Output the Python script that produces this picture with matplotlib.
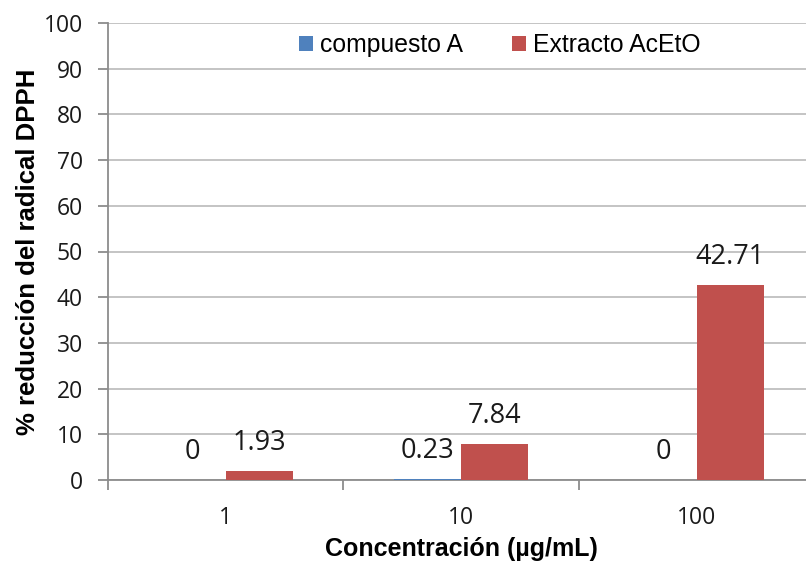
import numpy as np
import matplotlib.pyplot as plt
from matplotlib.ticker import MultipleLocator, FixedLocator

# DPPH radical scavenging data
concentraciones = ['1', '10', '100']
compuesto_a = [0, 0.23, 0]
extracto_acetO = [1.93, 7.84, 42.71]
series_names = ['compuesto A', 'Extracto AcEtO']

blue = '#4F81BD'
red = '#C0504D'
grid_gray = '#BFBFBF'
axis_gray = '#8C8C8C'
num_font = ['Open Sans', 'DejaVu Sans']

fig = plt.figure(figsize=(8.06, 5.65), dpi=100)
ax = fig.add_axes([108 / 806, 85 / 565, 706.5 / 806, 457 / 565])

x = np.arange(len(concentraciones))
w = 0.285
bars_a = ax.bar(x - w / 2, compuesto_a, w, color=blue, label=series_names[0], zorder=3)
bars_b = ax.bar(x + w / 2, extracto_acetO, w, color=red, label=series_names[1], zorder=3)

# value labels above each bar
for bars, vals in ((bars_a, compuesto_a), (bars_b, extracto_acetO)):
    for b, v in zip(bars, vals):
        ax.annotate(f'{v:g}', (b.get_x() + b.get_width() / 2, v),
                    xytext=(0, 20), textcoords='offset points',
                    ha='center', va='center', fontsize=19.5,
                    family=num_font, color='#1a1a1a')

ax.set_ylim(0, 100)
ax.set_xlim(-0.5, len(concentraciones) - 0.5)
ax.yaxis.set_major_locator(MultipleLocator(10))
ax.grid(axis='y', color=grid_gray, linewidth=1.3, zorder=0)

ax.set_xticks(x)
ax.set_xticklabels(concentraciones)
ax.xaxis.set_minor_locator(FixedLocator(np.arange(-0.5, len(concentraciones), 1)))
ax.tick_params(axis='x', which='major', length=0, pad=19)
ax.tick_params(axis='x', which='minor', length=7, width=1.3, color=axis_gray)
ax.tick_params(axis='y', length=7, width=1.3, color=axis_gray, pad=11)
for lbl in ax.get_xticklabels() + ax.get_yticklabels():
    lbl.set_family(num_font)
    lbl.set_fontsize(16.5)
    lbl.set_color('#1a1a1a')

for side in ('top', 'right'):
    ax.spines[side].set_visible(False)
for side in ('left', 'bottom'):
    ax.spines[side].set_color(axis_gray)
    ax.spines[side].set_linewidth(1.3)

ax.set_xlabel('Concentración (µg/mL)', fontsize=18, fontweight='bold',
              family='Liberation Sans', labelpad=5)
ax.set_ylabel('% reducción del radical DPPH', fontsize=18.5, fontweight='bold',
              family='Liberation Sans', labelpad=3)

ax.legend(loc='center', bbox_to_anchor=(500 / 806, 1 - 45 / 565),
          bbox_transform=fig.transFigure, ncol=2, frameon=False,
          prop={'family': 'Liberation Sans', 'size': 17.8},
          handlelength=0.55, handleheight=0.55, handletextpad=0.3,
          columnspacing=2.0)

fig.savefig('out.png', dpi=100)
